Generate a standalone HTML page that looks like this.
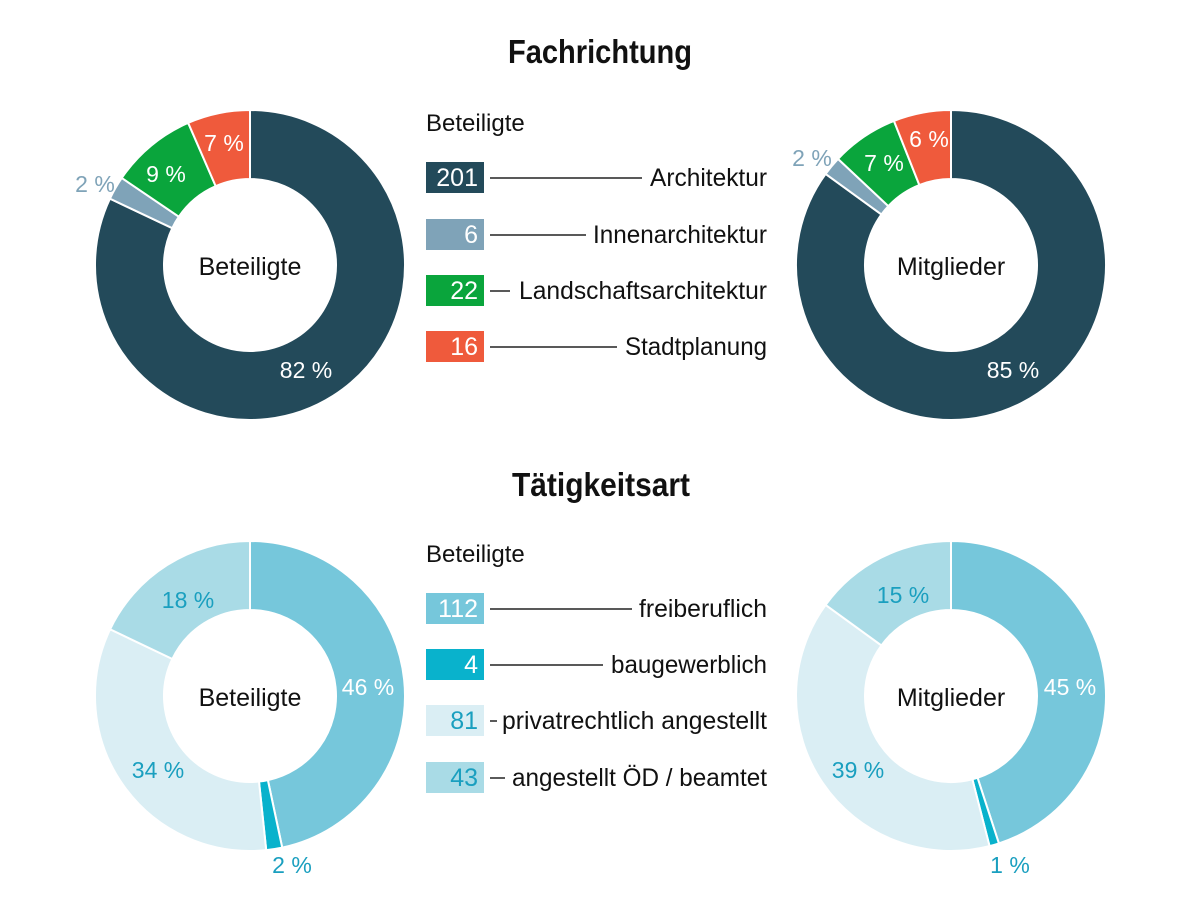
<!DOCTYPE html>
<html><head><meta charset="utf-8"><style>
html,body{margin:0;padding:0;background:#fff;width:1200px;height:900px;overflow:hidden}
svg text{font-family:"Liberation Sans Narrow","Liberation Sans",sans-serif}
</style></head><body>
<svg id="s" width="1200" height="900" xmlns="http://www.w3.org/2000/svg">
<text x="508" y="63" textLength="184" lengthAdjust="spacingAndGlyphs" font-size="33" font-weight="bold" fill="#111">Fachrichtung</text>
<text x="512" y="496" textLength="178" lengthAdjust="spacingAndGlyphs" font-size="33" font-weight="bold" fill="#111">Tätigkeitsart</text>
<g id="d"></g>
</svg>
<script>
var g=document.getElementById('d'),h='';
function pt(cx,cy,r,f){var a=f*2*Math.PI;return [cx+r*Math.sin(a),cy-r*Math.cos(a)];}
function t(x,y,s,c,anc,fs){h+='<text x="'+x+'" y="'+y+'" text-anchor="'+(anc||'middle')+'" font-size="'+(fs||23)+'" fill="'+c+'">'+s+'</text>';}
function donut(cx,cy,vals,cols,center){
 var R=155,r=86,tot=vals.reduce(function(a,b){return a+b},0),acc=0;
 for(var i=0;i<vals.length;i++){
  var f0=acc/tot,f1=(acc+vals[i])/tot;acc+=vals[i];
  var L=(f1-f0)>0.5?1:0,a=pt(cx,cy,R,f0),b=pt(cx,cy,R,f1),c=pt(cx,cy,r,f1),d=pt(cx,cy,r,f0);
  h+='<path d="M'+a+' A'+R+' '+R+' 0 '+L+' 1 '+b+' L'+c+' A'+r+' '+r+' 0 '+L+' 0 '+d+'Z" fill="'+cols[i]+'" stroke="#fff" stroke-width="2"/>';
 }
 t(cx,cy+10,center,'#111','middle',25);
}
var c1=['#234a5a','#7fa3b8','#0aa53c','#ef5a3c'],c2=['#76c7db','#09b2cc','#daeef4','#a9dbe6'];
donut(250,265,[201,6,22,16],c1,'Beteiligte');
donut(951,265,[85,2,7,6],c1,'Mitglieder');
donut(250,696,[112,4,81,43],c2,'Beteiligte');
donut(951,696,[45,1,39,15],c2,'Mitglieder');
t(306,378,'82 %','#fff');t(95,192,'2 %','#7fa3b8');t(166,182,'9 %','#fff');t(224,151,'7 %','#fff');
t(1013,378,'85 %','#fff');t(812,166,'2 %','#7fa3b8');t(884,171,'7 %','#fff');t(929,147,'6 %','#fff');
t(368,695,'46 %','#fff');t(292,873,'2 %','#1a9fbf');t(158,778,'34 %','#1a9fbf');t(188,608,'18 %','#1a9fbf');
t(1070,695,'45 %','#fff');t(1010,873,'1 %','#1a9fbf');t(858,778,'39 %','#1a9fbf');t(903,603,'15 %','#1a9fbf');
t(426,131,'Beteiligte','#111','start',24);t(426,562,'Beteiligte','#111','start',24);
function row(y,n,col,tc,lbl,lx,tx){
 h+='<rect x="426" y="'+(y-15)+'" width="58" height="31" fill="'+col+'"/>';
 h+='<text x="478" y="'+(y+9)+'" text-anchor="end" font-size="25" fill="'+tc+'">'+n+'</text>';
 h+='<line x1="490" y1="'+(y+1)+'" x2="'+lx+'" y2="'+(y+1)+'" stroke="#222" stroke-width="1.5"/>';
 h+='<text x="'+tx+'" y="'+(y+9)+'" textLength="'+(767-tx)+'" lengthAdjust="spacingAndGlyphs" font-size="25" fill="#111">'+lbl+'</text>';
}
row(177,'201','#234a5a','#fff','Architektur',642,650);
row(234,'6','#7fa3b8','#fff','Innenarchitektur',586,593);
row(290,'22','#0aa53c','#fff','Landschaftsarchitektur',510,519);
row(346,'16','#ef5a3c','#fff','Stadtplanung',617,625);
row(608,'112','#76c7db','#fff','freiberuflich',632,639);
row(664,'4','#09b2cc','#fff','baugewerblich',603,611);
row(720,'81','#daeef4','#1a9fbf','privatrechtlich angestellt',497,502);
row(777,'43','#a9dbe6','#1a9fbf','angestellt ÖD / beamtet',505,512);
g.innerHTML=h;
</script>
</body></html>
